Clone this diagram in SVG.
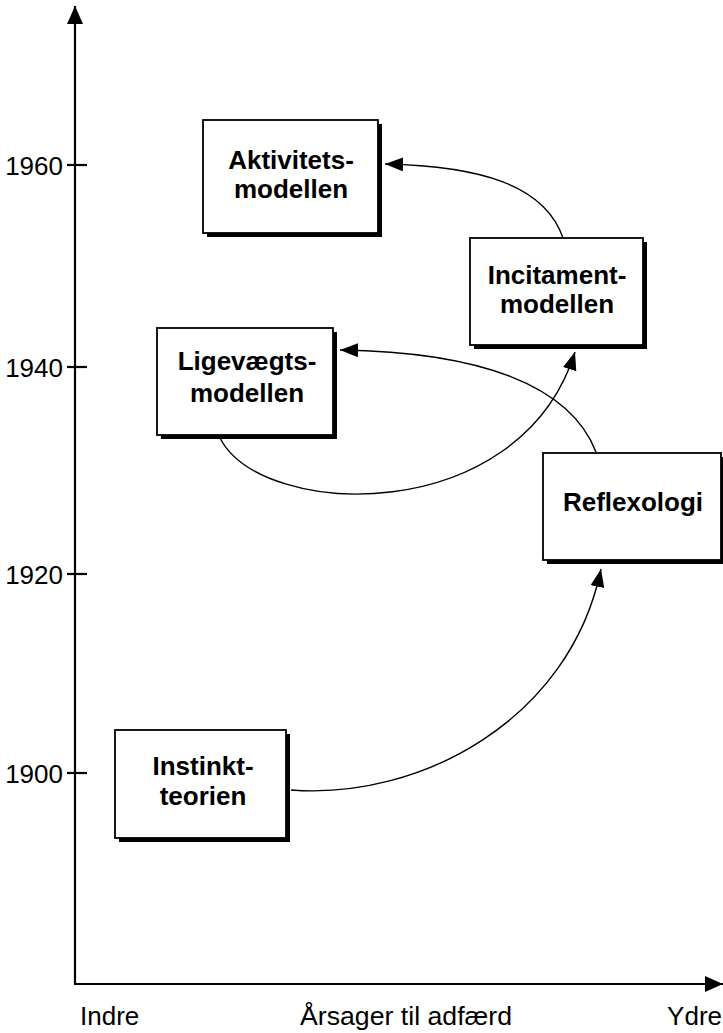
<svg xmlns="http://www.w3.org/2000/svg" width="723" height="1033" viewBox="0 0 723 1033">
<style>
.shadow{fill:#000}
.box{fill:#fff;stroke:#000;stroke-width:1.8}
.lbl{font-family:"Liberation Sans",Arial,sans-serif;font-weight:bold;font-size:26px;text-anchor:middle;fill:#000}
.tick{font-family:"Liberation Sans",Arial,sans-serif;font-size:26px;text-anchor:end;fill:#000}
.ax{font-family:"Liberation Sans",Arial,sans-serif;font-size:26px;fill:#000}
.axis{stroke:#000;stroke-width:2.2;fill:none}
.conn{stroke:#000;stroke-width:1.4;fill:none;marker-end:url(#arr)}
</style>
<defs>
<marker id="arr" viewBox="0 0 18 14" refX="18" refY="7" markerWidth="18" markerHeight="14" markerUnits="userSpaceOnUse" orient="auto">
<path d="M0 0 L18 7 L0 14 Z" fill="#000"/>
</marker>
<marker id="axarr" viewBox="0 0 18 16" refX="18" refY="8" markerWidth="18" markerHeight="16" markerUnits="userSpaceOnUse" orient="auto">
<path d="M0 0 L18 8 L0 16 Z" fill="#000"/>
</marker>
</defs>
<g id="axes">
<line class="axis" x1="75" y1="984" x2="75" y2="6" marker-end="url(#axarr)"/>
<line class="axis" x1="74" y1="984" x2="723" y2="984" marker-end="url(#axarr)"/>
<line class="axis" x1="67" y1="165" x2="87" y2="165"/>
<line class="axis" x1="67" y1="367" x2="87" y2="367"/>
<line class="axis" x1="67" y1="574" x2="87" y2="574"/>
<line class="axis" x1="67" y1="773" x2="87" y2="773"/>
<text class="tick" x="63" y="175">1960</text>
<text class="tick" x="63" y="377">1940</text>
<text class="tick" x="63" y="584">1920</text>
<text class="tick" x="63" y="783">1900</text>
<text class="ax" x="80" y="1025">Indre</text>
<text class="ax" x="300" y="1025" textLength="212" lengthAdjust="spacingAndGlyphs">Årsager til adfærd</text>
<text class="ax" x="722" y="1025" text-anchor="end">Ydre</text>
</g>
<g id="connectors">
<path class="conn" d="M291 790 C420 800 570 720 601 569"/>
<path class="conn" d="M220 438 C262 520 520 528 575 352"/>
<path class="conn" d="M596 452 C570 385 480 352 340 350"/>
<path class="conn" d="M563 238 C545 185 480 166 385 164"/>
</g>
<g id="aktivitets">
<rect class="shadow" x="207" y="124" width="175" height="113"/>
<rect class="box" x="203" y="120" width="175" height="113"/>
<text class="lbl" x="291" y="169">Aktivitets-</text>
<text class="lbl" x="291" y="198">modellen</text>
</g>
<g id="incitament">
<rect class="shadow" x="474" y="242" width="173" height="107"/>
<rect class="box" x="470" y="238" width="173" height="107"/>
<text class="lbl" x="557" y="284">Incitament-</text>
<text class="lbl" x="557" y="313">modellen</text>
</g>
<g id="ligevaegts">
<rect class="shadow" x="161" y="332" width="176" height="107"/>
<rect class="box" x="157" y="328" width="176" height="107"/>
<text class="lbl" x="247" y="370">Ligevægts-</text>
<text class="lbl" x="247" y="402">modellen</text>
</g>
<g id="reflexologi">
<rect class="shadow" x="547" y="457" width="180" height="107"/>
<rect class="box" x="543" y="453" width="178" height="107"/>
<text class="lbl" x="633" y="511">Reflexologi</text>
</g>
<g id="instinkt">
<rect class="shadow" x="119" y="734" width="171" height="108"/>
<rect class="box" x="115" y="730" width="171" height="108"/>
<text class="lbl" x="203" y="775">Instinkt-</text>
<text class="lbl" x="203" y="805">teorien</text>
</g>
</svg>
